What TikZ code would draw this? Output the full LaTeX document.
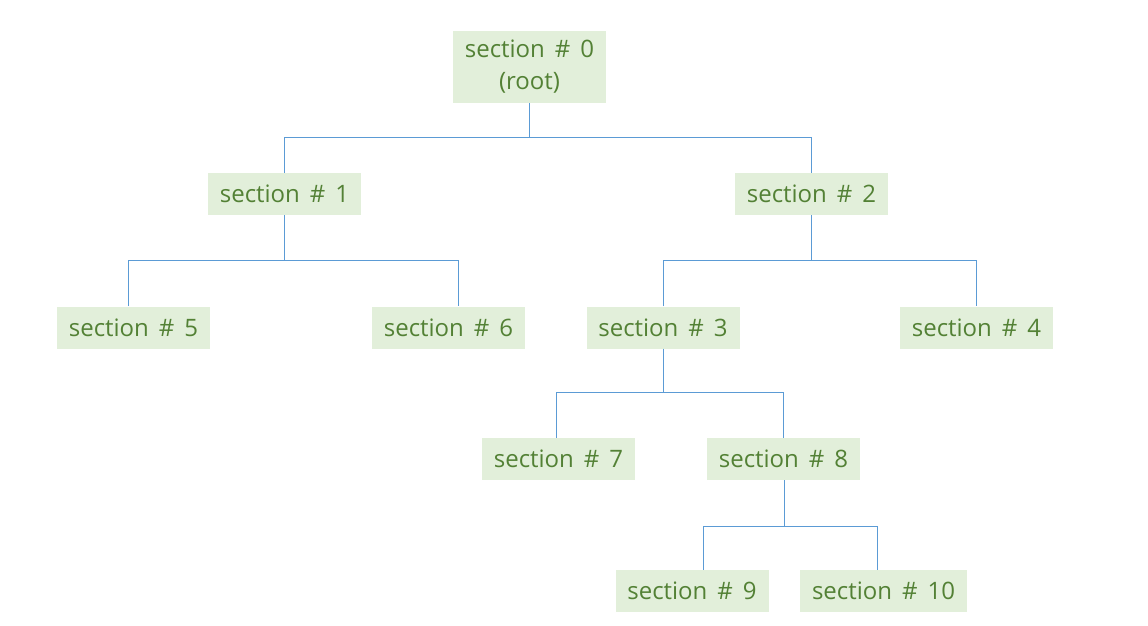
\documentclass[tikz,border=0pt]{standalone}
\usepackage{fontspec}
\setmainfont{Open Sans}[WordSpace=1.6]
\usetikzlibrary{calc}
\definecolor{boxfill}{HTML}{E2EFDA}
\definecolor{boxtext}{HTML}{538135}
\definecolor{linkcol}{HTML}{5B9BD5}
\begin{document}
\begin{tikzpicture}[x=1pt,y=-1pt,
  sec/.style={fill=boxfill, text=boxtext, inner sep=0pt, minimum width=153pt, minimum height=42pt,
    font=\fontsize{24}{32}\selectfont, align=center},
  link/.style={draw=linkcol, line width=1pt}]
\useasboundingbox (0,0) rectangle (1148,626);
\node[sec, minimum height=72pt] (s0) at (529.5,67) {section \# 0\\(root)};
\node[sec] (s1) at (284.5,194) {section \# 1};
\node[sec] (s2) at (811.5,194) {section \# 2};
\node[sec] (s5) at (133.5,327.5) {section \# 5};
\node[sec] (s6) at (448.5,327.5) {section \# 6};
\node[sec] (s3) at (663,327.5) {section \# 3};
\node[sec] (s4) at (976.5,327.5) {section \# 4};
\node[sec] (s7) at (558.5,459) {section \# 7};
\node[sec] (s8) at (783.5,459) {section \# 8};
\node[sec] (s9) at (692,591) {section \# 9};
\node[sec, minimum width=167pt] (s10) at (883.5,591) {section \# 10};
\coordinate (b0) at (0,137);
\coordinate (b1) at (0,260);
\coordinate (b2) at (0,260);
\coordinate (b3) at (0,392);
\coordinate (b8) at (0,526);
\coordinate (s5t) at ($(s5.north)+(-5.5,0)$);
\coordinate (s6t) at ($(s6.north)+(9.5,0)$);
\coordinate (s9t) at ($(s9.north)+(11,0)$);
\coordinate (s10t) at ($(s10.north)+(-6.5,0)$);
% root
\draw[link] (s0.south) -- (s0.south |- b0);
\draw[link] (s1.north) |- (b0 -| s2.north) -- (s2.north);
% s1
\draw[link] (s1.south) -- (s1.south |- b1);
\draw[link] (s5t) |- (b1 -| s6t) -- (s6t);
% s2
\draw[link] (s2.south) -- (s2.south |- b2);
\draw[link] (s3.north) |- (b2 -| s4.north) -- (s4.north);
% s3
\draw[link] (s3.south) -- (s3.south |- b3);
\draw[link] ([xshift=-2pt]s7.north) |- (b3 -| s8.north) -- (s8.north);
% s8
\draw[link] ([xshift=1pt]s8.south) -- ([xshift=1pt]s8.south |- b8);
\draw[link] (s9t) |- (b8 -| s10t) -- (s10t);
\end{tikzpicture}
\end{document}
